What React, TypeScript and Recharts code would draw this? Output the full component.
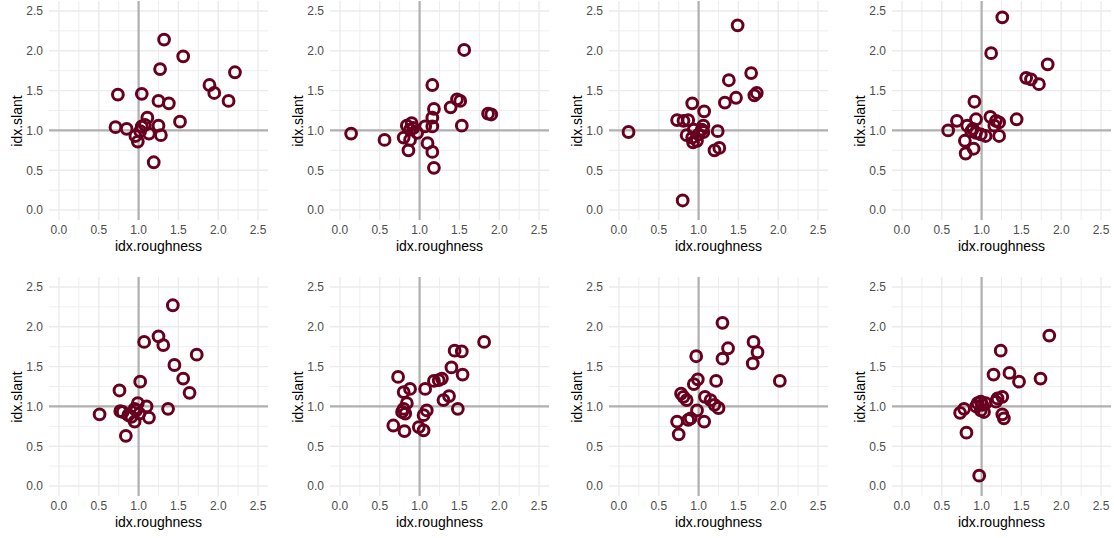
import React from "react";
import { ScatterChart, Scatter, XAxis, YAxis, ReferenceLine, Label } from "recharts";

const FONT = '"Liberation Sans", Arial, Helvetica, sans-serif';
const POINT_COLOR = "#67001F";

const TICKS = [0, 0.5, 1, 1.5, 2, 2.5];
const MINOR = [0.25, 0.75, 1.25, 1.75, 2.25];
const X_TITLE = "idx.roughness";
const Y_TITLE = "idx.slant";

const x1 = [1.32, 1.56, 1.27, 2.21, 1.89, 1.95, 2.13, 0.74, 1.04, 1.25, 1.38, 1.52, 1.11, 0.71, 0.85, 1.04, 1.08, 1.25, 0.96, 0.99, 1.13, 1.28, 1.19, 1.02];
const y1 = [2.14, 1.93, 1.77, 1.73, 1.57, 1.47, 1.37, 1.45, 1.46, 1.37, 1.34, 1.11, 1.16, 1.04, 1.02, 1.05, 1.07, 1.06, 0.93, 0.86, 0.96, 0.94, 0.6, 0.99];

const x2 = [1.56, 1.16, 1.18, 1.39, 1.47, 1.51, 1.86, 1.9, 1.53, 1.16, 1.16, 1.07, 0.14, 0.56, 0.8, 0.84, 0.9, 0.88, 0.88, 0.86, 0.97, 1.1, 1.16, 1.18, 0.92];
const y2 = [2.01, 1.57, 1.27, 1.29, 1.39, 1.37, 1.21, 1.2, 1.06, 1.05, 1.16, 1.05, 0.96, 0.88, 0.91, 1.06, 1.09, 1.01, 0.88, 0.75, 0.97, 0.84, 0.73, 0.53, 1.03];

const x3 = [1.49, 1.66, 1.38, 1.47, 1.33, 1.7, 1.73, 0.92, 1.07, 0.73, 0.81, 0.87, 0.12, 1.06, 1.04, 1.06, 1.0, 0.94, 0.85, 0.92, 0.93, 0.98, 1.24, 1.2, 1.26, 0.8];
const y3 = [2.32, 1.72, 1.63, 1.41, 1.35, 1.44, 1.47, 1.34, 1.24, 1.13, 1.12, 1.13, 0.98, 1.06, 1.01, 0.98, 0.95, 1.01, 0.94, 0.91, 0.85, 0.87, 0.99, 0.75, 0.78, 0.12];

const x4 = [1.26, 1.12, 1.83, 1.56, 1.62, 1.72, 0.91, 1.44, 1.11, 1.18, 1.22, 0.93, 0.69, 0.58, 0.82, 0.89, 0.93, 0.99, 1.05, 1.22, 1.16, 0.79, 0.9, 0.8, 0.87];
const y4 = [2.42, 1.97, 1.83, 1.66, 1.64, 1.58, 1.36, 1.14, 1.17, 1.12, 1.1, 1.14, 1.12, 1.0, 1.06, 1.02, 0.97, 0.95, 0.93, 0.93, 1.06, 0.87, 0.77, 0.71, 0.99];

const x5 = [1.43, 1.25, 1.07, 1.31, 1.73, 1.45, 1.56, 1.64, 1.02, 0.76, 1.37, 0.51, 0.77, 0.8, 0.87, 0.95, 0.99, 1.1, 1.13, 0.95, 0.91, 0.84, 1.01, 0.97];
const y5 = [2.27, 1.88, 1.81, 1.77, 1.65, 1.52, 1.35, 1.17, 1.31, 1.2, 0.97, 0.9, 0.94, 0.93, 0.89, 0.97, 1.04, 1.0, 0.86, 0.81, 0.87, 0.63, 0.91, 0.95];

const x6 = [1.81, 1.44, 1.53, 1.4, 1.54, 1.28, 1.24, 1.18, 0.73, 0.88, 0.8, 1.07, 1.37, 1.3, 1.48, 0.84, 0.8, 0.78, 0.82, 1.09, 1.05, 0.67, 0.81, 0.99, 1.05];
const y6 = [1.81, 1.7, 1.69, 1.49, 1.4, 1.35, 1.33, 1.32, 1.37, 1.22, 1.18, 1.22, 1.13, 1.08, 0.97, 1.04, 0.97, 0.93, 0.91, 0.95, 0.89, 0.76, 0.69, 0.74, 0.7];

const x7 = [1.3, 1.69, 1.37, 1.74, 1.3, 1.68, 0.97, 2.02, 1.22, 0.99, 0.94, 0.78, 0.81, 0.85, 1.08, 1.15, 1.2, 1.25, 0.98, 0.87, 0.9, 1.07, 0.73, 0.75];
const y7 = [2.05, 1.81, 1.73, 1.68, 1.6, 1.54, 1.63, 1.32, 1.32, 1.34, 1.28, 1.16, 1.12, 1.08, 1.12, 1.08, 1.02, 0.98, 0.95, 0.83, 0.85, 0.81, 0.81, 0.65];

const x8 = [1.85, 1.24, 1.15, 1.35, 1.47, 1.74, 1.26, 1.2, 1.18, 1.05, 0.99, 0.95, 0.93, 0.99, 1.03, 0.78, 0.73, 1.26, 1.28, 0.81, 0.97, 1.01];
const y8 = [1.89, 1.7, 1.4, 1.42, 1.31, 1.35, 1.12, 1.1, 1.06, 1.04, 1.06, 1.04, 1.0, 0.95, 0.93, 0.97, 0.92, 0.9, 0.85, 0.67, 0.13, 1.02];

const PANELS = [
  { xs: x1, ys: y1 },
  { xs: x2, ys: y2 },
  { xs: x3, ys: y3 },
  { xs: x4, ys: y4 },
  { xs: x5, ys: y5 },
  { xs: x6, ys: y6 },
  { xs: x7, ys: y7 },
  { xs: x8, ys: y8 },
];

const PANEL_LEFTS = [49, 330, 609, 892];
const PANEL_TOPS = [1, 277];
const PW = 219;
const PH = 219;
const YW = 50;
const XH = 45;
const RM = 6;

const XTick = (props: any) => {
  const { x, y, payload } = props;
  return (
    <text x={x} y={y + 13.6} textAnchor="middle" fill="#4d4d4d" fontSize={12} fontFamily={FONT}>
      {Number(payload.value).toFixed(1)}
    </text>
  );
};

const YTick = (props: any) => {
  const { x, y, payload } = props;
  return (
    <text x={x - 6} y={y} dy="0.36em" textAnchor="end" fill="#4d4d4d" fontSize={12} fontFamily={FONT}>
      {Number(payload.value).toFixed(1)}
    </text>
  );
};

const Ring = (props: any) => {
  const { cx, cy } = props;
  if (cx == null || cy == null) return null;
  return <circle cx={cx} cy={cy} r={5.4} fill="none" stroke={POINT_COLOR} strokeWidth={3} />;
};

function Panel({ xs, ys, left, top }: { xs: number[]; ys: number[]; left: number; top: number }) {
  const data = xs.map((x, i) => ({ x, y: ys[i] }));
  return (
    <div style={{ position: "absolute", left: left - YW, top, width: YW + PW + RM, height: PH + XH }}>
      <ScatterChart width={YW + PW + RM} height={PH + XH} margin={{ top: 0, right: RM, bottom: 0, left: 0 }}>
        <XAxis
          type="number"
          dataKey="x"
          domain={[-0.125, 2.625]}
          allowDataOverflow
          ticks={TICKS}
          interval={0}
          axisLine={false}
          tickLine={false}
          tickSize={0}
          tickMargin={0}
          height={XH}
          tick={<XTick />}
        >
          <Label
            content={(p: any) => {
              const vb = p.viewBox || { x: YW, y: PH, width: PW };
              return (
                <text
                  x={vb.x + vb.width / 2}
                  y={vb.y + 31}
                  textAnchor="middle"
                  fill="#000"
                  fontSize={14}
                  fontFamily={FONT}
                >
                  {X_TITLE}
                </text>
              );
            }}
          />
        </XAxis>
        <YAxis
          type="number"
          dataKey="y"
          domain={[-0.125, 2.625]}
          allowDataOverflow
          ticks={TICKS}
          interval={0}
          axisLine={false}
          tickLine={false}
          tickSize={0}
          tickMargin={0}
          width={YW}
          tick={<YTick />}
        >
          <Label
            content={(p: any) => {
              const vb = p.viewBox || { x: 0, y: 0, width: YW, height: PH };
              const tx = vb.x + vb.width - 27;
              const ty = vb.y + 120;
              return (
                <text
                  x={tx}
                  y={ty}
                  transform={`rotate(-90, ${tx}, ${ty})`}
                  textAnchor="middle"
                  fill="#000"
                  fontSize={14}
                  fontFamily={FONT}
                >
                  {Y_TITLE}
                </text>
              );
            }}
          />
        </YAxis>
        {MINOR.map((v) => (
          <ReferenceLine key={`mx${v}`} x={v} stroke="#eeeeee" strokeWidth={1} />
        ))}
        {MINOR.map((v) => (
          <ReferenceLine key={`my${v}`} y={v} stroke="#eeeeee" strokeWidth={1} />
        ))}
        {TICKS.map((v) => (
          <ReferenceLine key={`gx${v}`} x={v} stroke="#ebebeb" strokeWidth={1.4} />
        ))}
        {TICKS.map((v) => (
          <ReferenceLine key={`gy${v}`} y={v} stroke="#ebebeb" strokeWidth={1.4} />
        ))}
        <ReferenceLine x={1} stroke="#b0b0b0" strokeWidth={2.2} />
        <ReferenceLine y={1} stroke="#b0b0b0" strokeWidth={2.2} />
        <Scatter data={data} shape={<Ring />} isAnimationActive={false} />
      </ScatterChart>
    </div>
  );
}

export default function App() {
  return (
    <div style={{ position: "absolute", left: 0, top: 0, width: 1114, height: 538, background: "#fff" }}>
      {PANELS.map((p, i) => (
        <Panel
          key={i}
          xs={p.xs}
          ys={p.ys}
          left={PANEL_LEFTS[i % 4]}
          top={PANEL_TOPS[Math.floor(i / 4)]}
        />
      ))}
    </div>
  );
}
